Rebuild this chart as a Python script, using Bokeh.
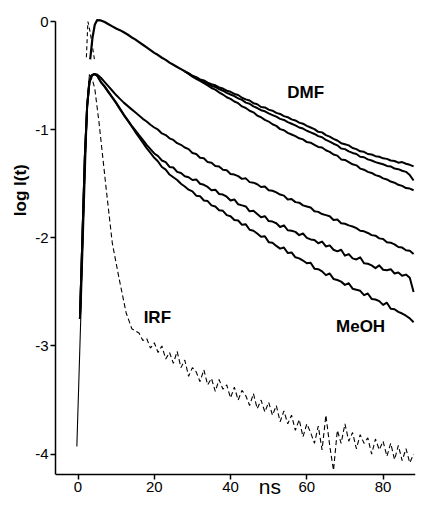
from bokeh.plotting import figure
from bokeh.models import Label, FixedTicker, LinearAxis
from bokeh.embed import file_html
from bokeh.resources import INLINE

# ---------------- data ----------------
# common 1-ns grid for the decay parts
t_tail = list(range(5, 89))            # 5 .. 88 ns

# MeOH: shared rising edge, then three decays
meoh_rise_t = [0.5, 1.2, 1.8, 2.4, 3.0, 3.6, 4.2]
meoh_rise_v = [-2.75, -1.95, -1.25, -0.78, -0.56, -0.50, -0.485]

meoh_top = [-0.49, -0.52, -0.56, -0.60, -0.64, -0.68, -0.715, -0.75, -0.78, -0.81,
            -0.84, -0.87, -0.90, -0.925, -0.955, -0.98, -1.00, -1.035, -1.05, -1.08,
            -1.095, -1.125, -1.14, -1.165, -1.18, -1.215, -1.225, -1.26, -1.265, -1.30,
            -1.305, -1.335, -1.34, -1.37, -1.375, -1.41, -1.415, -1.43, -1.455, -1.45,
            -1.485, -1.49, -1.505, -1.53, -1.525, -1.56, -1.565, -1.58, -1.60, -1.61,
            -1.645, -1.64, -1.67, -1.675, -1.70, -1.71, -1.72, -1.755, -1.76, -1.78,
            -1.79, -1.80, -1.835, -1.83, -1.865, -1.87, -1.885, -1.895, -1.91, -1.935,
            -1.94, -1.955, -1.975, -1.98, -2.005, -2.01, -2.04, -2.045, -2.06, -2.085,
            -2.09, -2.115, -2.12, -2.15]

meoh_mid = [-0.50, -0.56, -0.60, -0.65, -0.70, -0.75, -0.805, -0.86, -0.91, -0.96,
            -1.005, -1.05, -1.095, -1.14, -1.18, -1.22, -1.245, -1.285, -1.30, -1.345,
            -1.35, -1.39, -1.40, -1.43, -1.44, -1.465, -1.46, -1.50, -1.51, -1.53,
            -1.56, -1.555, -1.595, -1.60, -1.62, -1.655, -1.645, -1.69, -1.70, -1.71,
            -1.755, -1.75, -1.78, -1.81, -1.80, -1.845, -1.85, -1.865, -1.90, -1.885,
            -1.93, -1.935, -1.945, -1.975, -1.96, -2.00, -2.015, -2.02, -2.05, -2.035,
            -2.08, -2.07, -2.11, -2.125, -2.11, -2.165, -2.15, -2.19, -2.20, -2.18,
            -2.235, -2.24, -2.255, -2.28, -2.255, -2.295, -2.30, -2.29, -2.33, -2.32,
            -2.35, -2.34, -2.37, -2.50]

meoh_bot = [-0.50, -0.56, -0.605, -0.655, -0.705, -0.755, -0.81, -0.865, -0.915, -0.965,
            -1.02, -1.07, -1.12, -1.17, -1.215, -1.26, -1.295, -1.345, -1.37, -1.415,
            -1.44, -1.465, -1.50, -1.525, -1.555, -1.57, -1.61, -1.615, -1.655, -1.66,
            -1.70, -1.71, -1.745, -1.75, -1.79, -1.80, -1.835, -1.84, -1.88, -1.875,
            -1.925, -1.935, -1.96, -1.99, -1.985, -2.04, -2.045, -2.075, -2.10, -2.09,
            -2.14, -2.135, -2.18, -2.19, -2.21, -2.235, -2.23, -2.285, -2.29, -2.31,
            -2.345, -2.33, -2.38, -2.39, -2.405, -2.435, -2.42, -2.47, -2.48, -2.49,
            -2.53, -2.515, -2.565, -2.57, -2.585, -2.62, -2.60, -2.655, -2.66, -2.685,
            -2.70, -2.72, -2.745, -2.78]

# DMF: shared early part (3.2 .. 28 ns), then three tails (28 .. 88 ns)
dmf_early_t = [3.2, 3.8, 4.4] + list(range(5, 29))
dmf_early_v = [-0.35, -0.15, -0.03, 0.012, 0.01, -0.005, -0.025, -0.045, -0.065, -0.08,
               -0.10, -0.12, -0.145, -0.165, -0.19, -0.215, -0.24, -0.265, -0.29, -0.31,
               -0.335, -0.355, -0.38, -0.40, -0.42, -0.44, -0.46]
dmf_tail_t = list(range(28, 89))
dmf_top = [-0.46, -0.48, -0.50, -0.515, -0.535, -0.545, -0.565, -0.58, -0.59, -0.61,
           -0.62, -0.64, -0.65, -0.67, -0.68, -0.705, -0.72, -0.73, -0.755, -0.765,
           -0.79, -0.795, -0.815, -0.825, -0.845, -0.855, -0.875, -0.885, -0.905, -0.915,
           -0.935, -0.945, -0.965, -0.98, -0.995, -1.02, -1.025, -1.05, -1.065, -1.085,
           -1.10, -1.125, -1.135, -1.145, -1.17, -1.18, -1.20, -1.205, -1.225, -1.23,
           -1.245, -1.25, -1.265, -1.27, -1.285, -1.29, -1.305, -1.30, -1.315, -1.325,
           -1.34]
dmf_mid = [-0.46, -0.48, -0.505, -0.52, -0.54, -0.555, -0.575, -0.595, -0.605, -0.625,
           -0.64, -0.66, -0.675, -0.69, -0.71, -0.725, -0.75, -0.76, -0.785, -0.80,
           -0.82, -0.83, -0.85, -0.865, -0.88, -0.90, -0.91, -0.93, -0.945, -0.96,
           -0.98, -0.99, -1.01, -1.025, -1.04, -1.06, -1.07, -1.095, -1.11, -1.13,
           -1.145, -1.175, -1.18, -1.20, -1.215, -1.225, -1.25, -1.255, -1.275, -1.285,
           -1.30, -1.31, -1.32, -1.335, -1.34, -1.36, -1.365, -1.38, -1.39, -1.42,
           -1.47]
dmf_bot = [-0.46, -0.485, -0.51, -0.53, -0.55, -0.57, -0.59, -0.615, -0.63, -0.655,
           -0.675, -0.70, -0.715, -0.74, -0.755, -0.785, -0.80, -0.825, -0.84, -0.87,
           -0.885, -0.91, -0.925, -0.95, -0.965, -0.995, -1.005, -1.03, -1.045, -1.06,
           -1.08, -1.09, -1.115, -1.12, -1.14, -1.16, -1.165, -1.19, -1.205, -1.23,
           -1.24, -1.275, -1.28, -1.30, -1.32, -1.33, -1.36, -1.37, -1.39, -1.40,
           -1.42, -1.43, -1.45, -1.46, -1.48, -1.49, -1.51, -1.52, -1.54, -1.545,
           -1.56]

# IRF (instrument response)
irf_rise_t = [-0.3, 0.5, 1.3, 2.0, 2.6, 3.0]
irf_rise_v = [-3.93, -3.0, -2.1, -1.3, -0.65, -0.49]
irf_head_t = [3.0, 3.7, 4.4, 5.5, 7.4, 9.0, 10.8, 12.6, 14.1, 15.0]
irf_head_v = [-0.49, -0.53, -0.62, -0.93, -1.55, -2.05, -2.38, -2.69, -2.84, -2.86]
irf_tail_t = list(range(16, 89))
irf_tail_v = [-2.88, -2.95, -2.93, -3.02, -2.97, -3.06, -3.00, -3.12, -3.06, -3.16,
              -3.05, -3.20, -3.13, -3.28, -3.20, -3.24, -3.33, -3.22, -3.36, -3.30,
              -3.42, -3.31, -3.40, -3.36, -3.48, -3.38, -3.50, -3.41, -3.46, -3.55,
              -3.44, -3.58, -3.50, -3.61, -3.52, -3.64, -3.55, -3.70, -3.60, -3.72,
              -3.64, -3.78, -3.68, -3.84, -3.72, -3.80, -3.90, -3.74, -3.96, -3.64,
              -3.92, -4.15, -3.78, -3.90, -3.72, -3.88, -3.80, -3.95, -3.82, -3.90,
              -3.85, -4.00, -3.86, -3.96, -3.88, -4.02, -3.90, -4.05, -3.92, -4.06,
              -3.95, -4.08, -4.00]
# IRF copy normalised to the DMF peak (only its tip is drawn)
irf_top_t = [2.2, 2.6, 3.2, 4.4]
irf_top_v = [-0.33, 0.0, -0.10, -0.37]

x_ticks = [0, 20, 40, 60, 80]
y_ticks = [0, -1, -2, -3, -4]
x_title = "ns"
y_title = "log I(t)"

# ---------------- figure ----------------
FONT = "Liberation Sans"
Y_AXIS_FLOOR = -4.19          # where the time axis is drawn
p = figure(width=416, height=498, output_backend="svg", toolbar_location=None,
           x_range=(-5.9, 88.5), y_range=(-4.41, 0.0555),
           min_border_left=55, min_border_right=1, min_border_top=15, min_border_bottom=0)
p.outline_line_color = None
p.grid.visible = False
p.background_fill_color = "white"

for ax in (p.xaxis[0], p.yaxis[0]):
    ax.axis_line_width = 1.5
    ax.axis_line_color = "black"
    ax.major_tick_line_color = "black"
    ax.major_tick_line_width = 1.5
    ax.major_tick_in = 0
    ax.major_tick_out = 5
    ax.minor_tick_line_color = None
    ax.major_label_text_font = FONT
    ax.major_label_text_font_size = "15px"
    ax.major_label_text_color = "black"
    ax.major_label_standoff = 2

p.xaxis.ticker = FixedTicker(ticks=x_ticks)
p.xaxis.fixed_location = Y_AXIS_FLOOR
p.yaxis.ticker = FixedTicker(ticks=y_ticks)
p.yaxis.major_label_overrides = {v: ("%d" % v) for v in y_ticks}
p.yaxis.bounds = (Y_AXIS_FLOOR, 0)

# y-axis title placed off-centre, as in the original (label-only axis)
ylab_pos = -1.56
ylab_axis = LinearAxis(ticker=FixedTicker(ticks=[ylab_pos]),
                       major_label_overrides={ylab_pos: y_title},
                       axis_line_color=None, major_tick_line_color=None,
                       minor_tick_line_color=None, major_tick_in=0, major_tick_out=0,
                       major_label_orientation="vertical",
                       major_label_text_font=FONT, major_label_text_font_size="17px",
                       major_label_text_font_style="bold",
                       major_label_text_color="black", major_label_standoff=2)
p.add_layout(ylab_axis, "left")

# curves
for tv in (meoh_top, meoh_mid, meoh_bot):
    p.line(meoh_rise_t + t_tail, meoh_rise_v + tv, line_color="black",
           line_width=2, line_join="round")
p.line(dmf_early_t, dmf_early_v, line_color="black", line_width=2.2, line_join="round")
for tv in (dmf_top, dmf_mid, dmf_bot):
    p.line(dmf_tail_t, tv, line_color="black", line_width=2, line_join="round")

p.line(irf_rise_t, irf_rise_v, line_color="black", line_width=1.1)
p.line(irf_head_t + irf_tail_t, irf_head_v + irf_tail_v, line_color="black",
       line_width=1.1, line_dash="5 3")
p.line(irf_top_t, irf_top_v, line_color="black", line_width=1.1, line_dash="4 3")

# curve labels
for txt, x, y in (("DMF", 59.7, -0.655), ("MeOH", 74.1, -2.82), ("IRF", 20.8, -2.74)):
    p.add_layout(Label(x=x, y=y, text=txt, text_font=FONT, text_font_size="17px",
                       text_font_style="bold", text_align="center",
                       text_baseline="middle", text_color="black"))

# time-axis title
p.add_layout(Label(x=50.3, y=-4.295, text=x_title, text_font=FONT, text_font_size="21px",
                   text_align="center", text_baseline="alphabetic", text_color="black"))

open("out.html", "w").write(file_html(p, INLINE))
